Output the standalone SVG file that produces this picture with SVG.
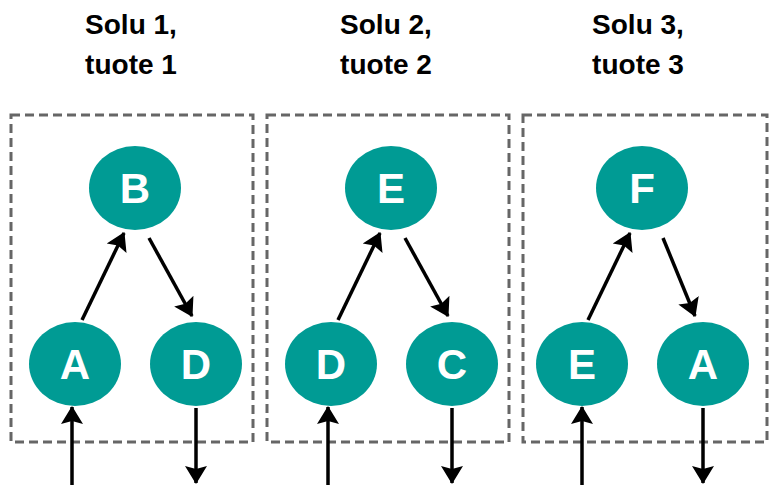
<svg xmlns="http://www.w3.org/2000/svg" width="771" height="496" viewBox="0 0 771 496">
<defs>
<style>
.box{fill:none;stroke:#666;stroke-width:3;stroke-dasharray:9 5}
.node{fill:#009B94}
.nl{font-family:"Liberation Sans",Arial,sans-serif;font-weight:bold;font-size:42px;fill:#fff;text-anchor:middle}
.title{font-family:"Liberation Sans",Arial,sans-serif;font-weight:bold;font-size:28px;fill:#000;text-anchor:middle}
.edge{stroke:#000;stroke-width:3.5;fill:none;marker-end:url(#ah)}
</style>
<marker id="ah" markerUnits="userSpaceOnUse" markerWidth="20" markerHeight="26" refX="17" refY="12" orient="auto">
<path d="M0,1 L18,12 L0,23 L3,12 z" fill="#000"/>
</marker>
</defs>
<g id="titles">
<text class="title" x="131" y="34">Solu 1,</text>
<text class="title" x="131" y="74">tuote 1</text>
<text class="title" x="386" y="34">Solu 2,</text>
<text class="title" x="386" y="74">tuote 2</text>
<text class="title" x="638" y="34">Solu 3,</text>
<text class="title" x="638" y="74">tuote 3</text>
</g>
<g id="cells">
<rect id="cell1" class="box" x="11" y="115" width="242" height="327"/>
<rect id="cell2" class="box" x="267" y="115" width="242" height="327"/>
<rect id="cell3" class="box" x="523" y="115" width="244" height="327"/>
</g>
<g id="connectors">
<line class="edge" x1="82" y1="320" x2="124" y2="233"/>
<line class="edge" x1="149" y1="238" x2="192" y2="316"/>
<line class="edge" x1="72" y1="485" x2="72" y2="407"/>
<line class="edge" x1="196" y1="408" x2="196" y2="483"/>
<line class="edge" x1="338" y1="320" x2="380" y2="233"/>
<line class="edge" x1="405" y1="238" x2="448" y2="316"/>
<line class="edge" x1="328" y1="485" x2="328" y2="407"/>
<line class="edge" x1="452" y1="408" x2="452" y2="483"/>
<line class="edge" x1="588" y1="320" x2="630" y2="233"/>
<line class="edge" x1="663" y1="238" x2="695" y2="316"/>
<line class="edge" x1="582" y1="485" x2="582" y2="407"/>
<line class="edge" x1="703" y1="408" x2="703" y2="483"/>
</g>
<g id="node-B"><ellipse class="node" cx="135" cy="188" rx="46" ry="42"/><text class="nl" x="135" y="203">B</text></g>
<g id="node-A1"><ellipse class="node" cx="75" cy="364" rx="46" ry="42"/><text class="nl" x="75" y="379">A</text></g>
<g id="node-D1"><ellipse class="node" cx="196" cy="364" rx="46" ry="42"/><text class="nl" x="196" y="379">D</text></g>
<g id="node-E1"><ellipse class="node" cx="391" cy="188" rx="46" ry="42"/><text class="nl" x="391" y="203">E</text></g>
<g id="node-D2"><ellipse class="node" cx="331" cy="364" rx="46" ry="42"/><text class="nl" x="331" y="379">D</text></g>
<g id="node-C"><ellipse class="node" cx="452" cy="364" rx="46" ry="42"/><text class="nl" x="452" y="379">C</text></g>
<g id="node-F"><ellipse class="node" cx="642" cy="188" rx="46" ry="42"/><text class="nl" x="642" y="203">F</text></g>
<g id="node-E2"><ellipse class="node" cx="582" cy="364" rx="46" ry="42"/><text class="nl" x="582" y="379">E</text></g>
<g id="node-A2"><ellipse class="node" cx="703" cy="364" rx="46" ry="42"/><text class="nl" x="703" y="379">A</text></g>
</svg>
